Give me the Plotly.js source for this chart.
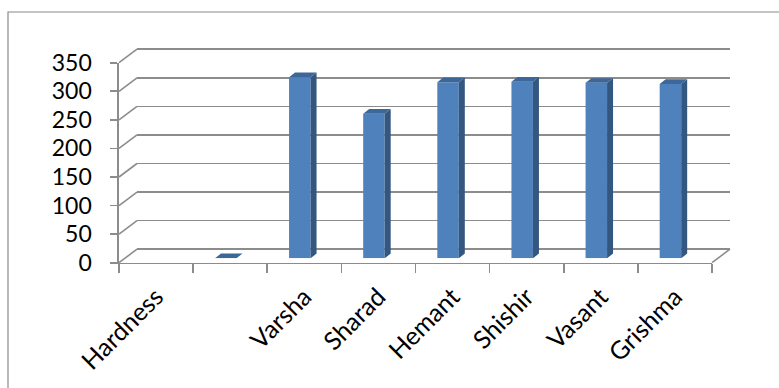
<!DOCTYPE html>
<html>
<head>
<meta charset="utf-8">
<script src="https://cdn.plot.ly/plotly-3.0.1.min.js"></script>
<style>
  html, body { margin: 0; padding: 0; background: #fff; }
  #chart { width: 779px; height: 388px; }
</style>
</head>
<body>
<div id="chart"></div>
<script>
// Hardness by season
const categories = ["Hardness", "", "Varsha", "Sharad", "Hemant", "Shishir", "Vasant", "Grishma"];
const hardness = [null, 0, 317, 253, 308, 309, 307, 305];
const yTicks = [0, 50, 100, 150, 200, 250, 300, 350];

// ---- geometry of the pseudo-3D box (pixels) ----
const W = 779, H = 388;
const M = { l: 100, r: 40, t: 40, b: 120 };
const PW = W - M.l - M.r, PH = H - M.t - M.b;
const fx = px => (px - M.l) / PW;          // pixel -> paper x
const fy = py => (H - M.b - py) / PH;      // pixel -> paper y

const front = { x0: 119, x1: 712, y0: 262.7, y1: 62.7 };
const back = { dx: 18, dy: -13.5 };        // back wall offset
const barPlane = { dx: -4.5, dy: -4.4 };   // plane of the column faces
const depth = { dx: 6, dy: 4.7 };          // column side/top depth

const nCat = categories.length;
const yMax = 350;
const pxPerCat = (front.x1 - front.x0) / nCat;
const pxPerUnit = (front.y0 - front.y1) / yMax;

// domain of a plane, optionally padded by `pad` value units so edge gridlines survive
function dom(plane, pad) {
  pad = pad || 0;
  return {
    x: [fx(front.x0 + plane.dx), fx(front.x1 + plane.dx)],
    y: [fy(front.y0 + plane.dy + pad * pxPerUnit), fy(front.y1 + plane.dy - pad * pxPerUnit)]
  };
}
const gridPad = 2;
const dFront = dom({ dx: 0, dy: 0 });
const dBack = dom(back, gridPad);
const dBar = dom(barPlane);

const gridColor = "#8c8c8c";
const fam = "Lato, 'Open Sans', sans-serif";
const yFont = { family: fam, size: 23, color: "#000" };
const xFont = { family: fam, size: 25, color: "#000" };

// ---- columns ----
const xs = categories.map((_, i) => i + 0.5);
const barW = 0.29;
const ddx = depth.dx / pxPerCat;
const ddy = depth.dy / pxPerUnit;

const frontFaces = {
  type: "bar", x: xs, y: hardness, width: barW,
  xaxis: "x3", yaxis: "y3",
  marker: { color: "#4F81BD", line: { width: 0 } },
  hoverinfo: "skip"
};

const sideX = [], sideY = [], topX = [], topY = [];
hardness.forEach((v, i) => {
  if (v === null) return;
  const xl = xs[i] - barW / 2, xr = xs[i] + barW / 2;
  sideX.push(xr, xr, xr + ddx, xr + ddx, xr, null);
  sideY.push(0, v, v + ddy, ddy, 0, null);
  topX.push(xl, xr, xr + ddx, xl + ddx, xl, null);
  topY.push(v, v, v + ddy, v + ddy, v, null);
});
const sideFaces = {
  type: "scatter", mode: "lines", x: sideX, y: sideY, xaxis: "x3", yaxis: "y3",
  fill: "toself", fillcolor: "#34577F", line: { width: 0 }, hoverinfo: "skip"
};
const topFaces = {
  type: "scatter", mode: "lines", x: topX, y: topY, xaxis: "x3", yaxis: "y3",
  fill: "toself", fillcolor: "#3D6699", line: { width: 0 }, hoverinfo: "skip"
};

// invisible carriers so every axis pair is drawn
const backCarrier = {
  type: "scatter", mode: "lines", x: [0, 8], y: [0, 0], xaxis: "x2", yaxis: "y2",
  line: { width: 0 }, hoverinfo: "skip", showlegend: false
};
const frontCarrier = {
  type: "scatter", mode: "lines", x: [0, 8], y: [0, 0], xaxis: "x", yaxis: "y",
  line: { width: 0 }, hoverinfo: "skip", showlegend: false
};

// ---- wall edges: left-wall diagonals, right floor edge, chart border ----
const yFrontPx = v => front.y0 - v * pxPerUnit;
const shapes = [];
yTicks.forEach(v => {
  const y = yFrontPx(v);
  shapes.push({
    type: "line", xref: "paper", yref: "paper",
    x0: fx(front.x0), y0: fy(y), x1: fx(front.x0 + back.dx), y1: fy(y + back.dy),
    line: { color: gridColor, width: 1.6 }
  });
});
shapes.push({
  type: "line", xref: "paper", yref: "paper",
  x0: fx(front.x1), y0: fy(front.y0), x1: fx(front.x1 + back.dx), y1: fy(front.y0 + back.dy),
  line: { color: gridColor, width: 1.6 }
});
shapes.push({
  type: "path", xref: "paper", yref: "paper",
  path: `M ${fx(8)} ${fy(H + 5)} L ${fx(8)} ${fy(12)} L ${fx(W + 5)} ${fy(12)}`,
  line: { color: "#8a8a8a", width: 1.2 }
});

const layout = {
  width: W, height: H,
  margin: M,
  paper_bgcolor: "#fff", plot_bgcolor: "rgba(0,0,0,0)",
  showlegend: false,
  font: yFont,
  xaxis: {
    domain: dFront.x, range: [0, nCat], anchor: "y",
    tickmode: "array", tickvals: xs, ticktext: categories, tickangle: -45,
    ticks: "", ticklabelstandoff: 8, showgrid: false, zeroline: false,
    showline: true, linecolor: gridColor, linewidth: 1.6,
    minor: { tickmode: "linear", tick0: 0, dtick: 1, ticks: "outside", ticklen: 9,
             tickcolor: gridColor, tickwidth: 1.6, showgrid: false },
    tickfont: xFont, fixedrange: true
  },
  yaxis: {
    domain: dFront.y, range: [0, yMax], anchor: "x",
    tickmode: "array", tickvals: yTicks, ticks: "outside", ticklen: 7,
    tickcolor: gridColor, tickwidth: 1.6, ticklabelstandoff: 14,
    showgrid: false, zeroline: false,
    showline: true, linecolor: gridColor, linewidth: 1.6,
    tickfont: yFont, fixedrange: true
  },
  xaxis2: {
    domain: dBack.x, range: [0, nCat], anchor: "y2",
    showticklabels: false, ticks: "", showgrid: false, zeroline: false, showline: false
  },
  yaxis2: {
    domain: dBack.y, range: [-gridPad, yMax + gridPad], anchor: "x2",
    tickmode: "array", tickvals: yTicks, showticklabels: false, ticks: "",
    showgrid: true, gridcolor: gridColor, gridwidth: 1.6,
    zeroline: false, showline: false
  },
  xaxis3: {
    domain: dBar.x, range: [0, nCat], anchor: "y3",
    showticklabels: false, ticks: "", showgrid: false, zeroline: false, showline: false
  },
  yaxis3: {
    domain: dBar.y, range: [0, yMax], anchor: "x3",
    showticklabels: false, ticks: "", showgrid: false, zeroline: false, showline: false
  },
  shapes: shapes
};

Plotly.newPlot("chart", [frontCarrier, backCarrier, frontFaces, sideFaces, topFaces], layout,
  { staticPlot: true, displayModeBar: false });
</script>
</body>
</html>
